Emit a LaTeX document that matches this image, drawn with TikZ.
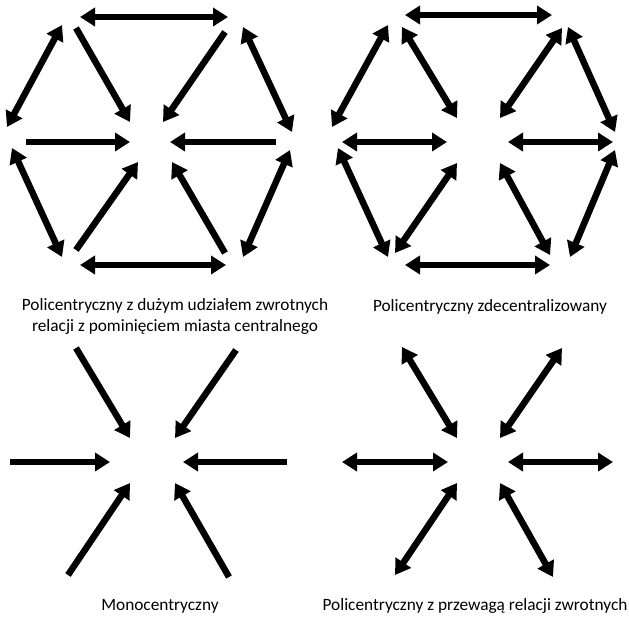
\documentclass[tikz,border=0pt]{standalone}
\usepackage{fontspec}
\setmainfont{Carlito}
\usetikzlibrary{arrows.meta}
\tikzset{
  flow/.style={line width=6.5pt, -{Triangle[length=15pt,width=18pt]}},
  twoway/.style={line width=6.5pt, {Triangle[length=15pt,width=18pt]}-{Triangle[length=15pt,width=18pt]}},
  caption/.style={font=\fontsize{17.3}{20}\selectfont, align=center, inner sep=0pt}
}
\begin{document}
\begin{tikzpicture}[x=1pt,y=-1pt]
\useasboundingbox (0,0) rectangle (629,619);
\fill[white] (0,0) rectangle (629,619);

% --- polycentric with strong reciprocal links bypassing the centre
\draw[twoway] (80,17) -- (228,17);
\draw[twoway] (80,265) -- (226,265);
\draw[twoway] (7,127) -- (62,25);
\draw[twoway] (12,148) -- (62,257);
\draw[twoway] (243,27) -- (292,132);
\draw[twoway] (290,150) -- (243,257);
\draw[flow] (26,142) -- (130,142);
\draw[flow] (276,142) -- (170,142);
\draw[flow] (76,28) -- (130,122);
\draw[flow] (225,32) -- (163,122);
\draw[flow] (76,250) -- (138,162);
\draw[flow] (225,253) -- (172,162);

% --- decentralised polycentric
\draw[twoway] (405,15) -- (552,15);
\draw[twoway] (405,265) -- (550,265);
\draw[twoway] (332,127) -- (388,25);
\draw[twoway] (338,148) -- (388,257);
\draw[twoway] (568,27) -- (615,132);
\draw[twoway] (615,150) -- (570,257);
\draw[twoway] (342,142) -- (447,142);
\draw[twoway] (508,142) -- (613,142);
\draw[twoway] (402,27) -- (457,118);
\draw[twoway] (562,28) -- (500,118);
\draw[twoway] (395,253) -- (457,163);
\draw[twoway] (550,255) -- (500,163);

% --- monocentric
\draw[flow] (76,348) -- (130,438);
\draw[flow] (236,350) -- (175,438);
\draw[flow] (10,462) -- (110,462);
\draw[flow] (287,462) -- (183,462);
\draw[flow] (68,575) -- (130,483);
\draw[flow] (229,577) -- (175,483);

% --- polycentric, mainly reciprocal links
\draw[twoway] (402,347) -- (457,438);
\draw[twoway] (562,348) -- (500,438);
\draw[twoway] (342,462) -- (448,462);
\draw[twoway] (508,462) -- (613,462);
\draw[twoway] (395,575) -- (457,483);
\draw[twoway] (553,577) -- (500,483);

% --- captions
\node[caption] (c1a) at (175,306) {Policentryczny z dużym udziałem zwrotnych};
\node[caption] (c1b) at (175,327) {relacji z pominięciem miasta centralnego};
\node[caption] (c2) at (490,307) {Policentryczny zdecentralizowany};
\node[caption] (c3) at (160,606) {Monocentryczny};
\node[caption] (c4) at (475,606) {Policentryczny z przewagą relacji zwrotnych};
\end{tikzpicture}
\end{document}
